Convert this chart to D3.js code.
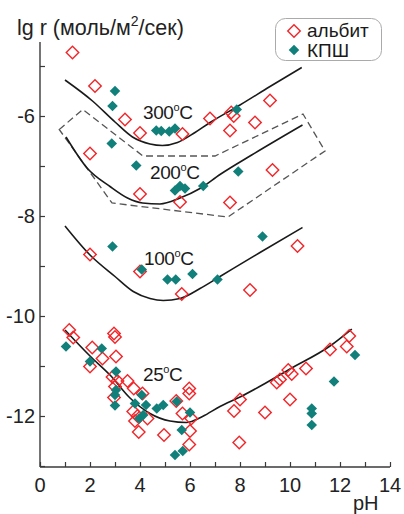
<!DOCTYPE html>
<html lang="ru">
<head>
<meta charset="utf-8" />
<title>lg r vs pH</title>
<script src="https://d3js.org/d3.v7.min.js"></script>
<style>
  body { margin: 0; background: #fff; }
  svg { font-family: "Liberation Sans", Arial, sans-serif; }
</style>
</head>
<body>
<script>

// axis ticks
var xTicks = d3.range(0, 15, 1);
var xLabels = [0, 2, 4, 6, 8, 10, 12, 14];
var yTicks = d3.range(-13, -4, 1);
var yLabels = [-12, -10, -8, -6];

// model curves (pH, lg r)
var curve300 = [[1.0,-5.28],[2.1,-5.7],[3.0,-6.12],[3.7,-6.42],[4.4,-6.56],[4.9,-6.59],[5.5,-6.53],[6.2,-6.33],[6.8,-6.13],[8.0,-5.78],[9.2,-5.41],[10.47,-5.03]];
var curve200 = [[1.04,-6.42],[1.9,-7.05],[2.8,-7.41],[3.5,-7.64],[4.1,-7.74],[4.8,-7.76],[5.6,-7.64],[6.4,-7.45],[7.2,-7.17],[8.5,-6.77],[10.5,-6.18]];
var curve100 = [[1.0,-8.2],[2.0,-8.78],[3.0,-9.21],[3.73,-9.51],[4.4,-9.65],[4.93,-9.69],[5.6,-9.65],[6.4,-9.45],[7.2,-9.21],[8.8,-8.73],[10.5,-8.23]];
var curve25 = [[1.0,-10.28],[2.0,-10.8],[2.8,-11.18],[3.6,-11.64],[4.4,-11.95],[5.2,-12.1],[5.85,-12.13],[6.5,-12.01],[7.2,-11.81],[8.0,-11.62],[9.0,-11.35],[10.0,-11.06],[11.6,-10.6],[12.47,-10.26]];

// dashed field around 200-300 C data
var envelope = [[0.77,-6.27],[1.71,-5.87],[4.12,-6.8],[7.0,-6.8],[10.52,-5.96],[11.4,-6.7],[7.52,-8.02],[2.88,-7.74]];

var curveNames = ["300", "200", "100", "25"];
var curveLabelPos = [[4.12,-6.05],[4.4,-7.25],[4.16,-8.97],[4.12,-11.3]];

// albite (open red diamonds)
var albiteHigh = [[1.3,-4.73],[2.2,-5.4],[3.4,-6.07],[4.0,-6.34],[5.7,-6.36],[6.8,-6.05],[7.65,-5.93],[7.75,-6.0],[7.6,-6.29],[8.6,-6.13],[9.2,-5.69],[2.0,-6.75],
  [4.0,-7.56],[5.6,-7.72],[7.6,-7.73],[9.3,-7.08]];
var albite100 = [[2.0,-8.77],[4.0,-9.11],[5.67,-9.56],[8.4,-9.48],[10.3,-8.6]];
var albite25 = [[1.17,-10.28],[1.33,-10.43],[2.96,-10.35],[3.0,-10.42],[2.09,-10.63],[2.5,-10.85],[3.04,-10.81],[2.0,-11.01],
  [2.9,-11.22],[3.1,-11.3],[3.5,-11.3],[3.0,-11.41],[2.96,-11.63],
  [3.75,-11.45],[4.1,-11.55],[3.73,-11.91],[3.9,-12.0],[3.8,-12.1],[4.3,-12.05],[3.95,-12.32],[4.96,-12.38],
  [5.45,-11.7],[5.7,-11.95],[5.97,-11.45],[5.97,-11.55],[6.05,-12.05],[6.0,-12.3],[5.97,-12.57],
  [8.0,-11.67],[7.76,-11.9],[7.97,-12.53],[9.0,-11.93],[9.47,-11.33],[9.6,-11.27],[9.93,-11.08],[10.07,-11.16],[10.0,-11.67],
  [10.64,-11.05],[11.6,-10.67],[12.27,-10.61],[12.37,-10.4]];

// K-feldspar (filled teal diamonds)
var kfsHigh = [[3.0,-5.5],[2.9,-5.8],[2.87,-6.55],[4.65,-6.29],[4.85,-6.3],[5.17,-6.31],[5.4,-6.25],[7.87,-5.87],
  [3.85,-6.99],[5.4,-7.49],[5.6,-7.4],[5.8,-7.45],[6.53,-7.4],[7.93,-7.11]];
var kfs100 = [[2.9,-8.61],[4.07,-9.07],[5.1,-9.27],[5.43,-9.27],[6.1,-9.16],[7.1,-9.27],[8.9,-8.41]];
var kfs25 = [[1.04,-10.61],[2.47,-10.65],[2.0,-10.91],[3.04,-11.11],[3.04,-11.48],[3.0,-11.58],[3.0,-11.79],
  [4.07,-11.58],[3.8,-11.75],[4.24,-11.78],[4.13,-11.98],[3.97,-12.05],[4.67,-11.85],[4.93,-11.78],[5.47,-11.71],
  [6.0,-11.93],[5.67,-12.28],[5.4,-12.78],[5.71,-12.7],
  [10.87,-11.85],[10.87,-11.95],[10.87,-12.18],[11.76,-11.31],[12.6,-10.78]];

var legendNames = ["альбит", "КПШ"];

var red = "#f2262a";
var teal = "#12807a";

var width = 404, height = 514;

var svg = d3.select("body").append("svg")
  .attr("width", width)
  .attr("height", height);

var x = d3.scaleLinear().domain([0, 14]).range([40, 390]);
var y = d3.scaleLinear().domain([-13.02, -4.52]).range([467, 42]);

// axes
var xAxis = d3.axisBottom(x).tickValues(xTicks).tickSize(-5).tickFormat("");
var yAxis = d3.axisLeft(y).tickValues(yTicks).tickSize(-5).tickFormat("");

svg.append("g").attr("transform", "translate(0," + y(-13.02) + ")").call(xAxis)
  .call(function (g) { g.select(".domain").attr("d", "M" + x(0) + ",0H" + x(14)); });
svg.append("g").attr("transform", "translate(" + x(0) + ",0)").call(yAxis)
  .call(function (g) { g.select(".domain").attr("d", "M0," + y(-4.52) + "V" + y(-13.02)); });

svg.selectAll(".domain").attr("stroke", "#3a3a3a").attr("stroke-width", 1.4);
svg.selectAll(".tick line").attr("stroke", "#3a3a3a").attr("stroke-width", 1.2);

svg.selectAll(".xlab").data(xLabels).enter().append("text")
  .attr("x", function (d) { return x(d); })
  .attr("y", 492)
  .attr("text-anchor", "middle")
  .attr("font-size", 20)
  .attr("fill", "#222")
  .text(function (d) { return d; });

svg.selectAll(".ylab").data(yLabels).enter().append("text")
  .attr("x", 35)
  .attr("y", function (d) { return y(d) + 7; })
  .attr("text-anchor", "end")
  .attr("font-size", 20)
  .attr("fill", "#222")
  .text(function (d) { return d; });

// axis titles
var title = svg.append("text")
  .attr("x", 17).attr("y", 35)
  .attr("font-size", 21.5)
  .attr("fill", "#222");
title.append("tspan").text("lg r (моль/м");
title.append("tspan").attr("font-size", 14).attr("dy", -9).text("2");
title.append("tspan").attr("dy", 9).text("/сек)");

svg.append("text")
  .attr("x", 353).attr("y", 510)
  .attr("font-size", 20)
  .attr("fill", "#222")
  .text("pH");

// dashed envelope
svg.append("path")
  .datum(envelope)
  .attr("d", d3.line().x(function (d) { return x(d[0]); }).y(function (d) { return y(d[1]); }).curve(d3.curveLinearClosed))
  .attr("fill", "none")
  .attr("stroke", "#555")
  .attr("stroke-width", 1.3)
  .attr("stroke-dasharray", "7,4");

// model curves
var line = d3.line()
  .x(function (d) { return x(d[0]); })
  .y(function (d) { return y(d[1]); })
  .curve(d3.curveMonotoneX);

svg.selectAll(".model").data([curve300, curve200, curve100, curve25]).enter().append("path")
  .attr("d", line)
  .attr("fill", "none")
  .attr("stroke", "#1a1a1a")
  .attr("stroke-width", 1.6);

// temperature labels
curveNames.forEach(function (t, i) {
  var lab = svg.append("text")
    .attr("x", x(curveLabelPos[i][0]))
    .attr("y", y(curveLabelPos[i][1]))
    .attr("font-size", 19)
    .attr("letter-spacing", -0.4)
    .attr("fill", "#1a1a1a");
  lab.append("tspan").text(t);
  lab.append("tspan").attr("font-size", 11).attr("dy", -8).text("o");
  lab.append("tspan").attr("dy", 8).text("C");
});

// markers
var openDiamond = d3.symbol().type(d3.symbolSquare).size(78);
var fullDiamond = d3.symbol().type(d3.symbolSquare).size(56);

var albite = albiteHigh.concat(albite100, albite25);
var kfs = kfsHigh.concat(kfs100, kfs25);

svg.selectAll(".albite").data(albite).enter().append("path")
  .attr("d", openDiamond)
  .attr("transform", function (d) { return "translate(" + x(d[0]) + "," + y(d[1]) + ") rotate(45)"; })
  .attr("fill", "none")
  .attr("stroke", red)
  .attr("stroke-width", 1.4);

svg.selectAll(".kfs").data(kfs).enter().append("path")
  .attr("d", fullDiamond)
  .attr("transform", function (d) { return "translate(" + x(d[0]) + "," + y(d[1]) + ") rotate(45)"; })
  .attr("fill", teal);

// legend
var leg = svg.append("g");
leg.append("rect")
  .attr("x", 275.5).attr("y", 18.5)
  .attr("width", 106).attr("height", 42)
  .attr("rx", 10)
  .attr("fill", "#fff")
  .attr("stroke", "#aaa")
  .attr("stroke-width", 1);
leg.append("path")
  .attr("d", openDiamond)
  .attr("transform", "translate(294,31) rotate(45)")
  .attr("fill", "none").attr("stroke", red).attr("stroke-width", 1.4);
leg.append("path")
  .attr("d", fullDiamond)
  .attr("transform", "translate(294,50) rotate(45)")
  .attr("fill", teal);
leg.selectAll(".lt").data(legendNames).enter().append("text")
  .attr("x", 307)
  .attr("y", function (d, i) { return 37 + i * 19.5; })
  .attr("font-size", 19)
  .attr("fill", "#1a1a1a")
  .text(function (d) { return d; });

</script>
</body>
</html>
